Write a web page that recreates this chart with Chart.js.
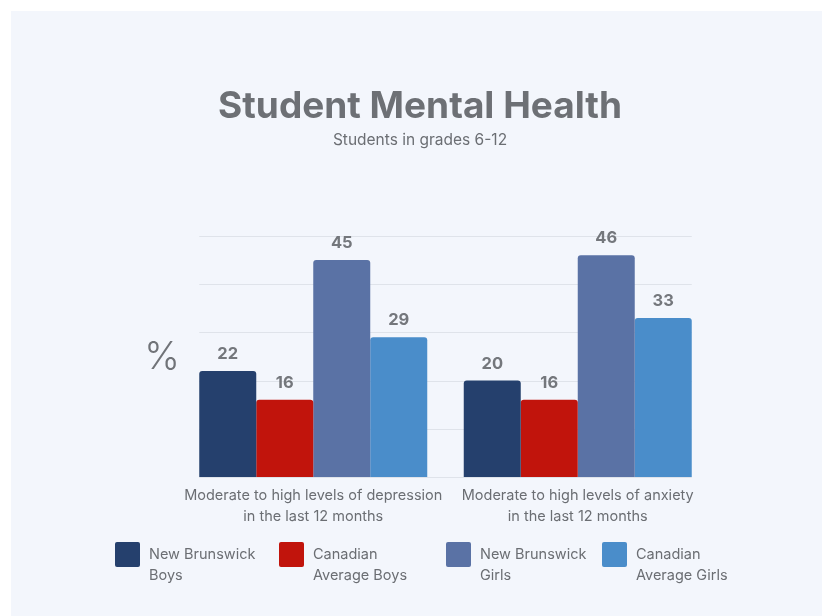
<!DOCTYPE html>
<html>
<head>
<meta charset="utf-8">
<script src="https://cdn.jsdelivr.net/npm/chart.js@4.4.1/dist/chart.umd.min.js"></script>
<style>
  html, body { margin: 0; padding: 0; background: #ffffff; }
  #wrap { position: relative; width: 822px; height: 616px; }
</style>
</head>
<body>
<div id="wrap"><canvas id="c" width="822" height="616"></canvas></div>
<script>
// ---- data ----
const chartTitle = "Student Mental Health";
const chartSubtitle = "Students in grades 6-12";
const categories = [
  ["Moderate to high levels of depression", "in the last 12 months"],
  ["Moderate to high levels of anxiety", "in the last 12 months"]
];
const seriesNames = [
  ["New Brunswick", "Boys"],
  ["Canadian", "Average Boys"],
  ["New Brunswick", "Girls"],
  ["Canadian", "Average Girls"]
];
const nbBoys = [22, 20];
const canBoys = [16, 16];
const nbGirls = [45, 46];
const canGirls = [29, 33];
const yTicks = [0, 10, 20, 30, 40, 50];

const seriesValues = [nbBoys, canBoys, nbGirls, canGirls];
const seriesColors = ["#25406d", "#c1140c", "#5a72a5", "#4a8dca"];
const textGray = "#6b6e73";
const FONT = "Inter, 'Noto Sans', sans-serif";

const panelPlugin = {
  id: 'panel',
  beforeDraw(chart) {
    const ctx = chart.ctx;
    ctx.save();
    ctx.fillStyle = "#f3f6fc";
    ctx.fillRect(11, 11, chart.width - 11, chart.height - 11);
    ctx.fillStyle = "#6d7075";
    ctx.textAlign = "center";
    ctx.textBaseline = "middle";
    ctx.font = "bold 37px " + FONT;
    ctx.fillText(chartTitle, 420, 107);
    ctx.fillStyle = textGray;
    ctx.font = "15.5px " + FONT;
    ctx.fillText(chartSubtitle, 420, 140);
    ctx.restore();
  }
};

const gridPlugin = {
  id: 'customGrid',
  beforeDatasetsDraw(chart) {
    const ctx = chart.ctx;
    const y = chart.scales.y;
    let left = Infinity, right = -Infinity;
    chart.data.datasets.forEach((ds, i) => {
      chart.getDatasetMeta(i).data.forEach(b => {
        left = Math.min(left, b.x - b.width / 2);
        right = Math.max(right, b.x + b.width / 2);
      });
    });
    ctx.save();
    ctx.strokeStyle = "#dfe3ea";
    ctx.lineWidth = 1;
    yTicks.forEach(v => {
      const py = Math.round(y.getPixelForValue(v)) + 0.5;
      ctx.beginPath();
      ctx.moveTo(left, py);
      ctx.lineTo(right, py);
      ctx.stroke();
    });
    ctx.restore();
  }
};

const labelPlugin = {
  id: 'valueLabels',
  afterDatasetsDraw(chart) {
    const ctx = chart.ctx;
    ctx.save();
    ctx.font = "bold 16.5px " + FONT;
    ctx.fillStyle = "#74777c";
    ctx.textAlign = "center";
    ctx.textBaseline = "middle";
    chart.data.datasets.forEach((ds, i) => {
      chart.getDatasetMeta(i).data.forEach((b, j) => {
        ctx.fillText(String(ds.data[j]), b.x, b.y - 17);
      });
    });
    // "%" axis marker
    const ys = chart.scales.y;
    ctx.font = "300 38px " + FONT;
    ctx.fillStyle = "#707378";
    ctx.fillText("%", 162, (ys.getPixelForValue(50) + ys.getPixelForValue(0)) / 2 + 1);
    ctx.restore();
  }
};

const legendPlugin = {
  id: 'customLegend',
  afterDraw(chart) {
    const ctx = chart.ctx;
    const xs = [115, 279, 446, 602];
    ctx.save();
    chart.data.datasets.forEach((ds, i) => {
      const x = xs[i];
      ctx.fillStyle = ds.backgroundColor;
      ctx.beginPath();
      ctx.roundRect(x, 542, 25, 25, 2);
      ctx.fill();
      ctx.fillStyle = textGray;
      ctx.font = "14.5px " + FONT;
      ctx.textAlign = "left";
      ctx.textBaseline = "middle";
      seriesNames[i].forEach((line, k) => {
        ctx.fillText(line, x + 34, 555 + k * 21);
      });
    });
    ctx.restore();
  }
};

new Chart(document.getElementById('c'), {
  type: 'bar',
  data: {
    labels: categories,
    datasets: seriesNames.map((n, i) => ({
      label: n.join(' '),
      data: seriesValues[i],
      backgroundColor: seriesColors[i],
      borderRadius: { topLeft: 3, topRight: 3, bottomLeft: 0, bottomRight: 0 },
      borderSkipped: false,
      categoryPercentage: 0.862,
      barPercentage: 1.0
    }))
  },
  options: {
    responsive: false,
    animation: false,
    devicePixelRatio: 1,
    layout: { padding: { left: 181, right: 112, top: 236, bottom: 89 } },
    plugins: {
      legend: { display: false },
      tooltip: { enabled: false },
      title: { display: false },
      subtitle: { display: false }
    },
    scales: {
      x: {
        grid: { display: false },
        border: { display: false },
        ticks: {
          color: textGray,
          font: { family: FONT, size: 14.5, lineHeight: 1.45 },
          padding: 0,
          maxRotation: 0,
          minRotation: 0,
          autoSkip: false
        }
      },
      y: {
        display: false,
        min: 0,
        max: 50
      }
    }
  },
  plugins: [panelPlugin, gridPlugin, labelPlugin, legendPlugin]
});
</script>
</body>
</html>
